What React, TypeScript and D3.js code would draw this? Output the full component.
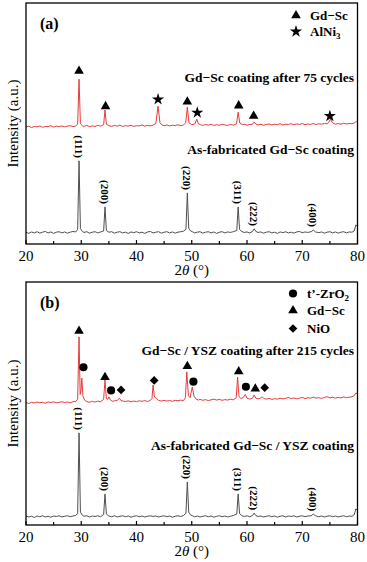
import React from 'react';
import * as d3 from 'd3';

type Pt = [number, number];

const xTicks = [20, 30, 40, 50, 60, 70, 80];
const xMinorTicks = [25, 35, 45, 55, 65, 75];
const hklLabels = ['(111)', '(200)', '(220)', '(311)', '(222)', '(400)'];
const hklAngles = [29.6, 34.3, 49.2, 58.4, 61.3, 72.0];

// ---- panel (a): Gd-Sc coating ----
const asFabAOffset = 4.6;
const asFabA: Pt[] = [
  [20, 0.3], [20.5, -0.2], [21, 0.4], [21.5, 0], [22, 0.5], [22.5, -0.1], [23, 0.3], [23.5, 0.6], [24, 0], [24.5, 0.4],
  [25, -0.2], [25.5, 0.3], [26, 0.5], [26.5, 0], [27, 0.4], [27.5, -0.1], [28, 0.3], [28.5, 0.6], [29, 0.4], [29.35, 1.5],
  [29.6, 29.9], [29.85, 1.8], [30.2, 0.6], [30.5, 0.2], [31, 0.5], [31.5, -0.1], [32, 0.3], [32.5, 0.5], [33, 0], [33.5, 0.4],
  [34.05, 0.8], [34.3, 10.8], [34.55, 1], [35, 0.3], [35.5, 0.5], [36, -0.1], [36.5, 0.3], [37, 0.5], [37.5, 0], [38, 0.3],
  [38.5, -0.2], [39, 0.4], [39.5, 0.1], [40, 0.5], [40.5, 0], [41, 0.3], [41.5, -0.2], [42, 0.4], [42.5, 0.6], [43, 0],
  [43.5, 0.3], [44, 0.5], [44.5, -0.1], [45, 0.3], [45.5, 0.5], [46, 0], [46.5, 0.4], [47, -0.1], [47.5, 0.3], [48, 0.5],
  [48.5, 0.7], [48.95, 1.5], [49.2, 16.6], [49.45, 2], [49.8, 0.8], [50.2, 0.4], [50.5, 0], [51, 0.3], [51.5, 0.5], [52, -0.1],
  [52.5, 0.3], [53, 0.5], [53.5, 0], [54, 0.4], [54.5, -0.2], [55, 0.3], [55.5, 0.5], [56, 0], [56.5, 0.4], [57, 0.2],
  [57.5, 0.5], [58.15, 1], [58.4, 10.8], [58.65, 1.5], [59, 0.6], [59.5, 0.2], [60, 0.4], [60.5, 0], [61, 0.6], [61.3, 1.7],
  [61.6, 0.6], [62, 0.2], [62.5, 0.4], [63, -0.1], [63.5, 0.3], [64, 0.5], [64.5, 0], [65, 0.3], [65.5, -0.2], [66, 0.4],
  [66.5, 0.1], [67, 0.5], [67.5, 0], [68, 0.3], [68.5, -0.1], [69, 0.4], [69.5, 0.6], [70, 0.1], [70.5, 0.4], [71, 0.2],
  [71.6, 0.5], [72, 1.2], [72.4, 0.4], [73, 0.1], [73.5, 0.4], [74, -0.1], [74.5, 0.3], [75, 0.5], [75.5, 0], [76, 0.4],
  [76.5, -0.1], [77, 0.3], [77.5, 0.5], [78, 0], [78.5, 0.4], [79, 0.3], [79.4, 0.8], [79.7, 3.3], [80, 2.8],
];

const cycledAOffset = 48.5;
const cycledA: Pt[] = [
  [20, 0], [20.5, 0.4], [21, -0.2], [21.5, 0.3], [22, 0.1], [22.5, 0.5], [23, -0.1], [23.5, 0.3], [24, 0.2], [24.5, 0.6],
  [25, 0], [25.5, 0.4], [26, 0.2], [26.5, 0.5], [27, 0.1], [27.5, 0.4], [28, 0.6], [28.5, 0.2], [29, 0.5], [29.35, 1.2],
  [29.6, 19.9], [29.85, 1.4], [30.2, 0.6], [30.5, 0.3], [31, 0.7], [31.5, 0.2], [32, 0.5], [32.5, 0.3], [33, 0.7], [33.5, 0.4],
  [34.05, 1], [34.3, 7.1], [34.55, 1.2], [35, 0.6], [35.5, 0.3], [36, 0.7], [36.5, 0.4], [37, 0.8], [37.5, 0.3], [38, 0.6],
  [38.5, 0.4], [39, 0.8], [39.5, 0.3], [40, 0.6], [40.5, 0.5], [41, 0.9], [41.5, 0.4], [42, 0.7], [42.5, 0.5], [43, 0.8],
  [43.5, 1.5], [43.9, 8.7], [44.25, 1.8], [44.6, 0.9], [45, 0.6], [45.5, 0.9], [46, 0.5], [46.5, 0.8], [47, 0.6], [47.5, 1],
  [48, 0.6], [48.5, 0.9], [48.9, 1.8], [49.2, 8.3], [49.5, 1.8], [50, 1], [50.6, 1.4], [50.9, 3.3], [51.2, 1.4], [51.6, 1],
  [52, 0.7], [52.5, 1.1], [53, 0.8], [53.5, 1.2], [54, 0.7], [54.5, 1], [55, 0.8], [55.5, 1.2], [56, 0.9], [56.5, 0.7],
  [57, 1.1], [57.5, 0.8], [58.1, 1.4], [58.4, 6.2], [58.7, 1.6], [59.2, 1], [59.5, 1.2], [60, 0.8], [60.5, 1.1], [61, 1.2],
  [61.3, 2.1], [61.6, 1.3], [62, 0.9], [62.5, 1.2], [63, 0.8], [63.5, 1.1], [64, 1.3], [64.5, 0.9], [65, 1.2], [65.5, 1],
  [66, 1.4], [66.5, 0.9], [67, 1.2], [67.5, 1.1], [68, 1.4], [68.5, 1], [69, 1.3], [69.5, 1.1], [70, 1.5], [70.5, 1],
  [71, 1.3], [71.5, 1.1], [72, 1.5], [72.5, 1.1], [73, 1.4], [73.5, 1.2], [74, 1.5], [74.5, 1.4], [74.8, 2], [75.1, 3.3],
  [75.4, 2], [75.8, 1.4], [76, 1.2], [76.5, 1.5], [77, 1.2], [77.5, 1.6], [78, 1.3], [78.5, 1.5], [79, 1.4], [79.5, 1.8],
  [79.8, 2.4], [80, 2.2],
];

const gdScAnglesA = [29.6, 34.4, 49.2, 58.5, 61.2];
const gdScLevelsA = [71.8, 57.1, 59.0, 57.4, 53.1];
const alNi3AnglesA = [43.9, 51.0, 75.0];
const alNi3LevelsA = [60.0, 54.5, 53.1];

// ---- panel (b): Gd-Sc / YSZ coating ----
const asFabBOffset = 3.3;
const asFabB: Pt[] = [
  [20, 0.4], [20.5, 0], [21, 0.3], [21.5, -0.2], [22, 0.4], [22.5, 0.1], [23, 0.5], [23.5, 0], [24, 0.3], [24.5, -0.1],
  [25, 0.4], [25.5, 0.2], [26, 0.5], [26.5, 0], [27, 0.3], [27.5, 0.5], [28, 0.1], [28.5, 0.4], [29, 0.6], [29.35, 1.5],
  [29.6, 34.6], [29.85, 2], [30.2, 0.7], [30.5, 0.3], [31, 0.5], [31.5, 0], [32, 0.4], [32.5, 0.2], [33, 0.5], [33.5, 0.1],
  [34.05, 1], [34.3, 9.5], [34.55, 1.2], [35, 0.4], [35.5, 0.1], [36, 0.5], [36.5, 0], [37, 0.3], [37.5, 0.5], [38, 0.1],
  [38.5, 0.4], [39, -0.1], [39.5, 0.3], [40, 0.5], [40.5, 0.1], [41, 0.4], [41.5, 0], [42, 0.3], [42.5, 0.5], [43, 0.2],
  [43.5, 0.4], [44, 0], [44.5, 0.3], [45, 0.5], [45.5, 0.1], [46, 0.4], [46.5, -0.1], [47, 0.3], [47.5, 0.5], [48, 0.2],
  [48.5, 0.6], [48.95, 1.5], [49.2, 14.4], [49.45, 2], [49.8, 0.8], [50.2, 0.4], [50.5, 0.1], [51, 0.4], [51.5, 0], [52, 0.3],
  [52.5, 0.5], [53, 0.1], [53.5, 0.4], [54, -0.1], [54.5, 0.3], [55, 0.5], [55.5, 0.1], [56, 0.4], [56.5, 0], [57, 0.3],
  [57.5, 0.6], [58.15, 1.2], [58.4, 9.5], [58.65, 1.5], [59, 0.6], [59.5, 0.2], [60, 0.5], [60.5, 0.1], [61, 0.6], [61.3, 1.6],
  [61.6, 0.6], [62, 0.2], [62.5, 0.4], [63, 0], [63.5, 0.3], [64, 0.5], [64.5, 0.1], [65, 0.4], [65.5, -0.1], [66, 0.3],
  [66.5, 0.5], [67, 0], [67.5, 0.4], [68, 0.2], [68.5, 0.5], [69, 0], [69.5, 0.3], [70, 0.5], [70.5, 0.1], [71, 0.4],
  [71.6, 0.5], [72, 1.2], [72.4, 0.5], [73, 0.1], [73.5, 0.4], [74, 0], [74.5, 0.3], [75, 0.5], [75.5, 0.1], [76, 0.4],
  [76.5, 0], [77, 0.3], [77.5, 0.5], [78, 0.1], [78.5, 0.4], [79, 0.3], [79.4, 0.9], [79.7, 3.3], [80, 2.8],
];

const cycledBOffset = 50.2;
const cycledB: Pt[] = [
  [20, 0.2], [20.5, -0.2], [21, 0.3], [21.5, 0], [22, 0.4], [22.5, 0.1], [23, 0.3], [23.5, -0.1], [24, 0.4], [24.5, 0.2],
  [25, 0.5], [25.5, 0.1], [26, 0.3], [26.5, 0.5], [27, 0.2], [27.5, 0.4], [28, 0.1], [28.5, 0.5], [29, 0.7], [29.35, 1.6],
  [29.6, 27.2], [29.8, 3.5], [29.95, 5], [30.1, 10.3], [30.3, 3], [30.6, 1.2], [31, 0.6], [31.5, 0.3], [32, 0.7], [32.5, 0.4],
  [33, 0.8], [33.5, 0.5], [34.05, 1.5], [34.3, 9.5], [34.55, 1.8], [34.8, 1.5], [35, 2.5], [35.3, 1.2], [35.7, 0.7], [36, 0.9],
  [36.5, 1], [36.9, 2], [37.2, 1], [37.6, 0.8], [38, 0.6], [38.5, 0.9], [39, 0.5], [39.5, 0.8], [40, 0.6], [40.5, 0.9],
  [41, 0.7], [41.5, 1], [42, 0.6], [42.5, 1.1], [42.8, 1.8], [43.0, 7.4], [43.25, 2.4], [43.6, 1.9], [44, 1.1], [44.5, 0.8],
  [45, 1.1], [45.5, 0.8], [46, 1], [46.5, 0.7], [47, 1.1], [47.5, 0.9], [48, 1.2], [48.5, 1], [48.85, 2.2], [49.1, 12.8],
  [49.4, 3], [49.7, 2.2], [50.1, 6.6], [50.4, 2.8], [50.8, 1.6], [51.2, 1.2], [51.5, 1.5], [52, 1.1], [52.5, 1.4], [53, 1],
  [53.5, 1.3], [54, 1.6], [54.5, 1.2], [55, 1.5], [55.5, 1.1], [56, 1.4], [56.5, 1.2], [57, 1.6], [57.5, 1.3], [58.05, 2.2],
  [58.3, 10.7], [58.55, 2.6], [58.9, 1.9], [59.3, 2.2], [59.7, 3.5], [60, 2], [60.5, 1.6], [61, 2], [61.3, 3.3], [61.6, 2],
  [62, 1.7], [62.4, 1.9], [62.7, 2.6], [63, 1.9], [63.5, 1.6], [64, 1.9], [64.5, 1.5], [65, 1.8], [65.5, 1.6], [66, 2],
  [66.5, 1.7], [67, 1.9], [67.5, 2.3], [68, 1.8], [68.5, 2.1], [69, 1.7], [69.5, 2], [70, 2.3], [70.5, 1.8], [71, 2.2],
  [71.5, 2], [72, 2.4], [72.5, 2], [73, 2.2], [73.5, 1.9], [74, 2.3], [74.5, 2.6], [75, 2.1], [75.5, 2.4], [76, 2],
  [76.5, 2.3], [77, 2.1], [77.5, 2.5], [78, 2.2], [78.5, 2.4], [79, 2.6], [79.4, 3], [79.7, 4.1], [80, 3.8],
];

const zrO2AnglesB = [30.4, 35.4, 50.3, 59.8];
const zrO2LevelsB = [64.9, 55.4, 59.0, 56.9];
const gdScAnglesB = [29.6, 34.3, 49.2, 58.5, 61.5];
const gdScLevelsB = [79.8, 60.8, 65.3, 63.2, 56.1];
const nioAnglesB = [37.2, 43.2, 63.2];
const nioLevelsB = [55.6, 59.5, 56.5];

const FONT = "'Liberation Serif', 'Times New Roman', Times, serif";
const RED = '#e63b3b';
const GRAY = '#4f4f4f';

const x = d3.scaleLinear().domain([20, 80]).range([26, 357.5]);

const symTriangle = d3.symbol(d3.symbolTriangle, 40)() || '';
const symStar = d3.symbol(d3.symbolStar, 46)() || '';
const symCircle = d3.symbol(d3.symbolCircle, 52)() || '';
const symDiamond = d3.symbol(d3.symbolSquare, 38)() || '';

type MarkerSet = { path: string; rotate?: number; angles: number[]; levels: number[] };
type LegendItem = { path: string; rotate?: number; label: React.ReactNode };

interface PanelProps {
  top: number;
  bottom: number;
  tag: string;
  asFab: Pt[];
  asFabOffset: number;
  cycled: Pt[];
  cycledOffset: number;
  markers: MarkerSet[];
  legend: LegendItem[];
  legendY: number[];
  legendSymX: number;
  legendTextX: number;
  cycledText: string;
  cycledTextY: number;
  asFabText: string;
  asFabTextY: number;
}

function Panel(p: PanelProps) {
  const y = d3.scaleLinear().domain([0, 100]).range([p.bottom, p.top]);
  const lineFab = d3.line<Pt>().x(d => x(d[0])).y(d => y(d[1] + p.asFabOffset));
  const lineCyc = d3.line<Pt>().x(d => x(d[0])).y(d => y(d[1] + p.cycledOffset));
  const [x0, x1] = x.range();

  const peakTop = (a: number) =>
    d3.max(p.asFab.filter(d => Math.abs(d[0] - a) < 0.3), d => d[1]) || 0;

  return (
    <g>
      <path d={lineFab(p.asFab) || ''} fill="none" stroke={GRAY} strokeWidth={1} />
      <path d={lineCyc(p.cycled) || ''} fill="none" stroke={RED} strokeWidth={1} />

      {/* frame */}
      <rect x={x0} y={p.top} width={x1 - x0} height={p.bottom - p.top} fill="none" stroke="#000" strokeWidth={1.3} />

      {/* ticks */}
      {xTicks.map(t => (
        <g key={t}>
          <line x1={x(t)} x2={x(t)} y1={p.bottom} y2={p.bottom - 4} stroke="#000" strokeWidth={1.2} />
          <text x={x(t)} y={p.bottom + 16.5} textAnchor="middle" fontSize={15} fontFamily={FONT}>{t}</text>
        </g>
      ))}
      {xMinorTicks.map(t => (
        <line key={t} x1={x(t)} x2={x(t)} y1={p.bottom} y2={p.bottom - 3} stroke="#000" strokeWidth={1.2} />
      ))}
      <text x={(x0 + x1) / 2} y={p.bottom + 31} textAnchor="middle" fontSize={15} fontFamily={FONT}>
        2<tspan fontStyle="italic">θ</tspan> (°)
      </text>
      <text transform={`translate(18,${(p.top + p.bottom) / 2}) rotate(-90)`} textAnchor="middle" fontSize={15} fontFamily={FONT}>
        Intensity (a.u.)
      </text>

      {/* tag */}
      <text x={40} y={p.top + 26} fontSize={16} fontWeight="bold" fontFamily={FONT}>{p.tag}</text>

      {/* hkl labels */}
      {hklAngles.map((a, i) => (
        <text key={i} transform={`translate(${x(a)},${y(peakTop(a) + p.asFabOffset) - 3}) rotate(90)`}
          textAnchor="end" dy="0.35em" fontSize={11} fontWeight="bold" fontFamily={FONT}>
          {hklLabels[i]}
        </text>
      ))}

      {/* phase markers */}
      {p.markers.map((m, mi) => m.angles.map((a, i) => (
        <path key={`${mi}-${i}`} d={m.path} fill="#000"
          transform={`translate(${x(a)},${y(m.levels[i])})${m.rotate ? ` rotate(${m.rotate})` : ''}`} />
      )))}

      {/* legend */}
      {p.legend.map((l, i) => (
        <g key={i}>
          <path d={l.path} fill="#000"
            transform={`translate(${p.legendSymX},${p.legendY[i] - 4.5})${l.rotate ? ` rotate(${l.rotate})` : ''}`} />
          <text x={p.legendTextX} y={p.legendY[i]} fontSize={13} fontWeight="bold" fontFamily={FONT}>{l.label}</text>
        </g>
      ))}

      <text x={354} y={p.cycledTextY} textAnchor="end" fontSize={13.5} fontWeight="bold" fontFamily={FONT}>{p.cycledText}</text>
      <text x={354} y={p.asFabTextY} textAnchor="end" fontSize={13.5} fontWeight="bold" fontFamily={FONT}>{p.asFabText}</text>
    </g>
  );
}

export default function App() {
  return (
    <svg width={367} height={562} style={{ position: 'absolute', left: 0, top: 0, background: '#fff' }}>
      <Panel
        top={3} bottom={244} tag="(a)"
        asFab={asFabA} asFabOffset={asFabAOffset}
        cycled={cycledA} cycledOffset={cycledAOffset}
        markers={[
          { path: symTriangle, angles: gdScAnglesA, levels: gdScLevelsA },
          { path: symStar, angles: alNi3AnglesA, levels: alNi3LevelsA },
        ]}
        legend={[
          { path: symTriangle, label: 'Gd−Sc' },
          { path: symStar, label: <>AlNi<tspan fontSize={9} dy={3}>3</tspan></> },
        ]}
        legendY={[20, 36]} legendSymX={296} legendTextX={310}
        cycledText="Gd−Sc coating after 75 cycles" cycledTextY={82}
        asFabText="As-fabricated Gd−Sc coating" asFabTextY={154}
      />
      <Panel
        top={282} bottom={525} tag="(b)"
        asFab={asFabB} asFabOffset={asFabBOffset}
        cycled={cycledB} cycledOffset={cycledBOffset}
        markers={[
          { path: symCircle, angles: zrO2AnglesB, levels: zrO2LevelsB },
          { path: symTriangle, angles: gdScAnglesB, levels: gdScLevelsB },
          { path: symDiamond, rotate: 45, angles: nioAnglesB, levels: nioLevelsB },
        ]}
        legend={[
          { path: symCircle, label: <>t’-ZrO<tspan fontSize={9} dy={3}>2</tspan></> },
          { path: symTriangle, label: 'Gd−Sc' },
          { path: symDiamond, rotate: 45, label: 'NiO' },
        ]}
        legendY={[298, 315, 333]} legendSymX={293} legendTextX={307}
        cycledText="Gd−Sc / YSZ coating after 215 cycles" cycledTextY={355}
        asFabText="As-fabricated Gd−Sc / YSZ coating" asFabTextY={450}
      />
    </svg>
  );
}
